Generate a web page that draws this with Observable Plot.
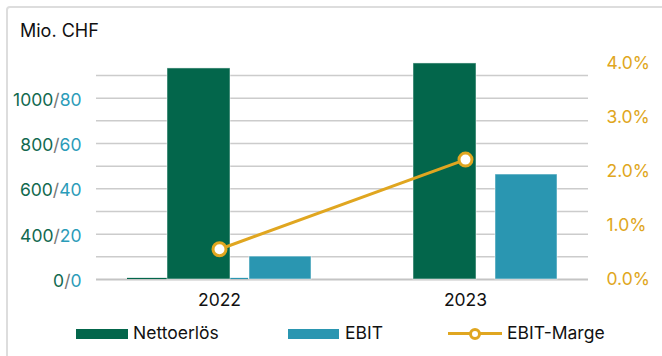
<!DOCTYPE html>
<html>
<head>
<meta charset="utf-8">
<script src="https://cdn.jsdelivr.net/npm/d3@7"></script>
<script src="https://cdn.jsdelivr.net/npm/@observablehq/plot@0.6"></script>
<style>
  html, body { margin: 0; padding: 0; background: #fff; }
  body { width: 662px; height: 356px; overflow: hidden; font-family: "Inter", "DejaVu Sans", sans-serif; }
  #wrap { position: relative; width: 662px; height: 356px; }
  #frame { position: absolute; left: 6px; top: 6px; width: 700px; height: 400px; border: 2px solid #dddddd; border-radius: 4px; box-sizing: border-box; }
  #title { position: absolute; left: 20px; top: 20px; font-size: 18px; color: #111; line-height: 22px; }
  #chart { position: absolute; left: 0; top: 0; }
  .lg { position: absolute; }
  .lgtext { position: absolute; top: 323px; font-size: 17.5px; line-height: 20px; color: #111; white-space: nowrap; }
</style>
</head>
<body>
<div id="wrap">
  <div id="frame"></div>
  <div id="chart"></div>
  <div id="title">Mio. CHF</div>
  <div id="legend"></div>
</div>
<script>
// ---- data (in left-axis units) ----
const years = ["2022", "2023"];
const nettoerloes = [93.1, 95.3];
const ebit = [10.1, 46.3];
const nettoerloesSmall = [0.5, 0];
const ebitSmall = [0.5, 0];
const ebitMarge = [0.56, 2.22];            // percent, right axis
const leftTickValues = [0, 20, 40, 60, 80];
const leftTickLabels = ["0/0", "400/20", "600/40", "800/60", "1000/80"];
const gridValues = [10, 20, 30, 40, 50, 60, 70, 80, 90];
const rightTickValues = [0, 1, 2, 3, 4];
const rightTickLabels = ["0.0%", "1.0%", "2.0%", "3.0%", "4.0%"];
const legendLabels = ["Nettoerlös", "EBIT", "EBIT-Marge"];

// ---- styles ----
const cGreen = "#03664b";
const cTeal = "#2a96b1";
const cGold = "#e0a620";
const cGreenText = "#11694f";
const cTealText = "#2b9cb9";
const pctUnit = 23.82; // left-axis units per 1 %

const rows = years.map((y, i) => ({
  year: y, net: nettoerloes[i], ebit: ebit[i],
  netS: nettoerloesSmall[i], ebitS: ebitSmall[i], marge: ebitMarge[i] * pctUnit
}));

const fs = 17.5;
const chart = Plot.plot({
  width: 662,
  height: 318,
  marginLeft: 96,
  marginRight: 74,
  marginTop: 52.3,
  marginBottom: 39,
  style: { fontFamily: "Inter, 'DejaVu Sans', sans-serif", fontSize: fs + "px", background: "transparent", overflow: "visible" },
  x: { type: "band", domain: years, padding: 0, axis: null },
  y: { domain: [0, 100], axis: null },
  marks: [
    Plot.ruleY(gridValues, { stroke: "#cccccc", strokeWidth: 1.5 }),
    Plot.ruleY([0], { stroke: "#c4c4c4", strokeWidth: 2 }),
    Plot.barY(rows, { x: "year", y: "netS", fill: cGreen, insetLeft: 31, insetRight: 175 }),
    Plot.barY(rows, { x: "year", y: "ebitS", fill: cTeal, insetLeft: 112, insetRight: 94 }),
    Plot.barY(rows, { x: "year", y: "net", fill: cGreen, stroke: "#ffffff", strokeWidth: 1, strokeOpacity: 0.5, insetLeft: 71, insetRight: 112 }),
    Plot.barY(rows, { x: "year", y: "ebit", fill: cTeal, stroke: "#ffffff", strokeWidth: 1, strokeOpacity: 0.5, insetLeft: 153, insetRight: 31 }),
    Plot.line(rows, { x: "year", y: "marge", stroke: cGold, strokeWidth: 3 }),
    Plot.dot(rows, { x: "year", y: "marge", r: 6.5, fill: "#ffffff", stroke: cGold, strokeWidth: 3 }),
    Plot.text(leftTickValues, { y: d => d, text: (d, i) => leftTickLabels[i], frameAnchor: "left", dx: -15, dy: 2, textAnchor: "end" }),
    Plot.text(rightTickValues, { y: d => d * pctUnit, text: (d, i) => rightTickLabels[i], frameAnchor: "right", dx: 18, textAnchor: "start", fill: cGold }),
    Plot.text(years, { x: d => d, text: d => d, frameAnchor: "bottom", dy: 26, fill: "#111" })
  ]
});

// colour the two parts of each left tick label
const ns = "http://www.w3.org/2000/svg";
chart.querySelectorAll('text').forEach(t => {
  const txt = t.textContent;
  if (!leftTickLabels.includes(txt)) return;
  const parts = txt.split("/");
  t.textContent = "";
  const a = document.createElementNS(ns, "tspan"); a.setAttribute("fill", cGreenText); a.textContent = parts[0];
  const s = document.createElementNS(ns, "tspan"); s.setAttribute("fill", "#777"); s.textContent = "/";
  const b = document.createElementNS(ns, "tspan"); b.setAttribute("fill", cTealText); b.textContent = parts[1];
  t.append(a, s, b);
});
document.getElementById("chart").append(chart);

// legend (HTML, below the SVG)
const lg = document.getElementById("legend");
function box(l, t, w, h, css) { const d = document.createElement("div"); d.className = "lg"; d.style.cssText = `left:${l}px;top:${t}px;width:${w}px;height:${h}px;` + css; lg.append(d); }
function label(l, txt) { const d = document.createElement("div"); d.className = "lgtext"; d.style.left = l + "px"; d.textContent = txt; lg.append(d); }
box(76, 329, 52, 10, `background:${cGreen};`);
label(133, legendLabels[0]);
box(288, 329, 51, 10, `background:${cTeal};`);
label(345, legendLabels[1]);
box(448, 332, 54, 3, `background:${cGold};`);
box(469, 327.5, 6, 6, `background:#fff;border:3px solid ${cGold};border-radius:50%;`);
label(507, legendLabels[2]);
</script>
</body>
</html>
